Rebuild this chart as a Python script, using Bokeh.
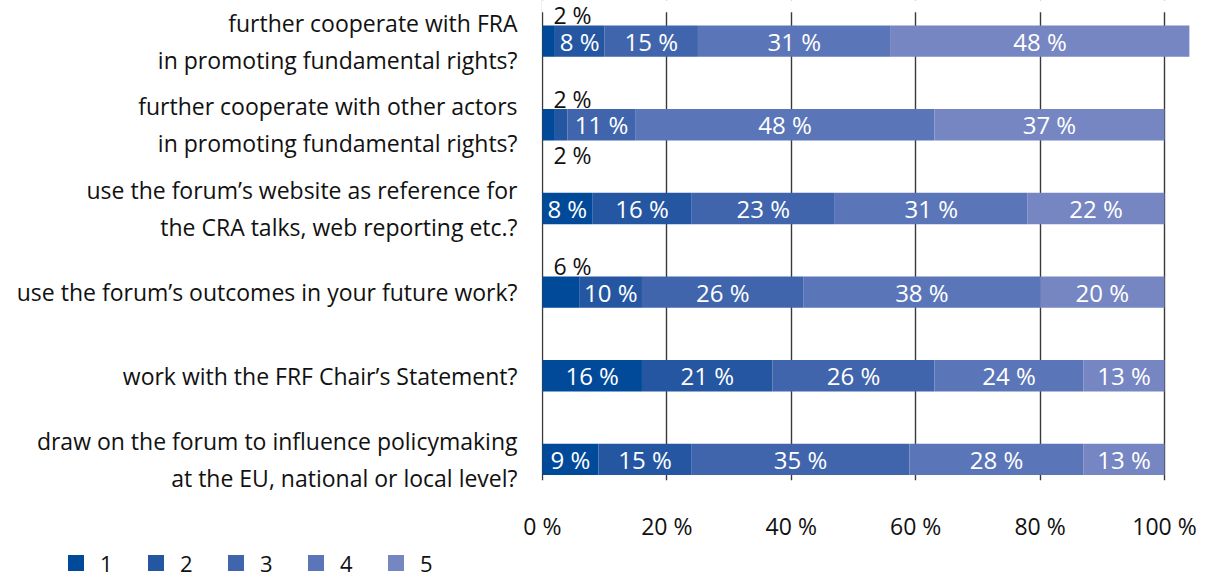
from bokeh.plotting import figure
from bokeh.layouts import column
from bokeh.models import (ColumnDataSource, Range1d, FixedTicker, LabelSet, BoxAnnotation, Div)
from bokeh.core.properties import value
from bokeh.embed import file_html
from bokeh.resources import INLINE

categories = [
    "further cooperate with FRA\nin promoting fundamental rights?",
    "further cooperate with other actors\nin promoting fundamental rights?",
    "use the forum\u2019s website as reference for\nthe CRA talks, web reporting etc.?",
    "use the forum\u2019s outcomes in your future work?",
    "work with the FRF Chair\u2019s Statement?",
    "draw on the forum to influence policymaking\nat the EU, national or local level?",
]
series_names = ["1", "2", "3", "4", "5"]
s1 = [2, 2, 8, 6, 16, 9]
s2 = [8, 2, 16, 10, 21, 15]
s3 = [15, 11, 23, 26, 26, 35]
s4 = [31, 48, 31, 38, 24, 28]
s5 = [48, 37, 22, 20, 13, 13]
x_ticks = [0, 20, 40, 60, 80, 100]
x_tick_labels = ["0 %", "20 %", "40 %", "60 %", "80 %", "100 %"]

colors = ["#004a99", "#2456a2", "#4065ad", "#5b76b8", "#7686c2"]
FONT = "Open Sans"
TXT = "#111111"
W = 1210

series = [s1, s2, s3, s4, s5]
n = len(categories)
ys = [n - 1 - i for i in range(n)]

p = figure(width=W, height=544, output_backend="svg", toolbar_location=None,
           x_range=Range1d(-0.15, 104.5), y_range=Range1d(-0.252, 5.486),
           min_border_left=541, min_border_right=18, min_border_top=0, min_border_bottom=54)
p.outline_line_color = None
p.background_fill_color = "white"

# keep the grid lines from reaching the very top of the frame
p.add_layout(BoxAnnotation(bottom=5.345, fill_color="white", fill_alpha=1.0,
                           line_color=None, level="underlay"))

cum = [0] * n
in_x, in_y, in_t = [], [], []
out_x, out_y, out_t, out_off = [], [], [], []
small_count = [0] * n
for k, vals in enumerate(series):
    left = list(cum)
    right = [c + v for c, v in zip(cum, vals)]
    src = ColumnDataSource(dict(y=ys, left=left, right=right))
    p.hbar(y="y", left="left", right="right", height=0.375, source=src,
           fill_color=colors[k], line_color=None)
    for i, v in enumerate(vals):
        if v >= 7:
            in_x.append((left[i] + right[i]) / 2)
            in_y.append(ys[i])
            in_t.append(f"{v} %")
        else:
            out_x.append(0)
            out_y.append(ys[i])
            out_t.append(f"{v} %")
            out_off.append(26 if small_count[i] == 0 else -30)
            small_count[i] += 1
    cum = right

in_src = ColumnDataSource(dict(x=in_x, y=in_y, t=in_t))
p.add_layout(LabelSet(x="x", y="y", text="t", source=in_src, text_align="center",
                      text_baseline="middle", text_color="white", text_font_size="24px",
                      text_font=value(FONT)))
out_src = ColumnDataSource(dict(x=out_x, y=out_y, t=out_t, off=out_off))
p.add_layout(LabelSet(x="x", y="y", text="t", source=out_src, text_align="left",
                      text_baseline="middle", text_color=TXT, text_font_size="23px",
                      text_font=value(FONT), x_offset=11, y_offset="off"))

# axes
p.xaxis.ticker = FixedTicker(ticks=x_ticks)
p.xaxis.major_label_overrides = {t: l for t, l in zip(x_ticks, x_tick_labels)}
p.xaxis.axis_line_color = None
p.xaxis.major_tick_line_color = None
p.xaxis.minor_tick_line_color = None
p.xaxis.major_label_standoff = 23
p.xaxis.major_label_text_font = FONT
p.xaxis.major_label_text_font_size = "23px"
p.xaxis.major_label_text_color = TXT

p.yaxis.ticker = FixedTicker(ticks=ys)
p.yaxis.major_label_overrides = {y: c for y, c in zip(ys, categories)}
p.yaxis.axis_line_color = None
p.yaxis.major_tick_line_color = None
p.yaxis.minor_tick_line_color = None
p.yaxis.major_label_standoff = 18
p.yaxis.major_label_text_font = FONT
p.yaxis.major_label_text_font_size = "23px"
p.yaxis.major_label_text_color = TXT
p.yaxis.major_label_text_line_height = 1.16

p.xgrid.ticker = FixedTicker(ticks=x_ticks)
p.xgrid.grid_line_color = "#3a3a3a"
p.xgrid.grid_line_width = 1.4
p.ygrid.grid_line_color = None

# legend strip below the chart
items = "".join(
    f'<span style="display:inline-block;width:16px;height:16px;background:{c};'
    f'margin-right:16px"></span><span style="display:inline-block;width:12px;'
    f'margin-right:36px">{s}</span>'
    for s, c in zip(series_names, colors)
)
legend_div = Div(
    text=(f'<div style="display:flex;align-items:center;box-sizing:border-box;height:33px;'
          f'padding-top:4px;padding-left:68px;font-family:\'{FONT}\';font-size:22px;'
          f'color:{TXT};line-height:1">{items}</div>'),
    width=W, height=33, margin=0)

layout = column(p, legend_div, spacing=0)
open("out.html", "w").write(file_html(layout, INLINE))
